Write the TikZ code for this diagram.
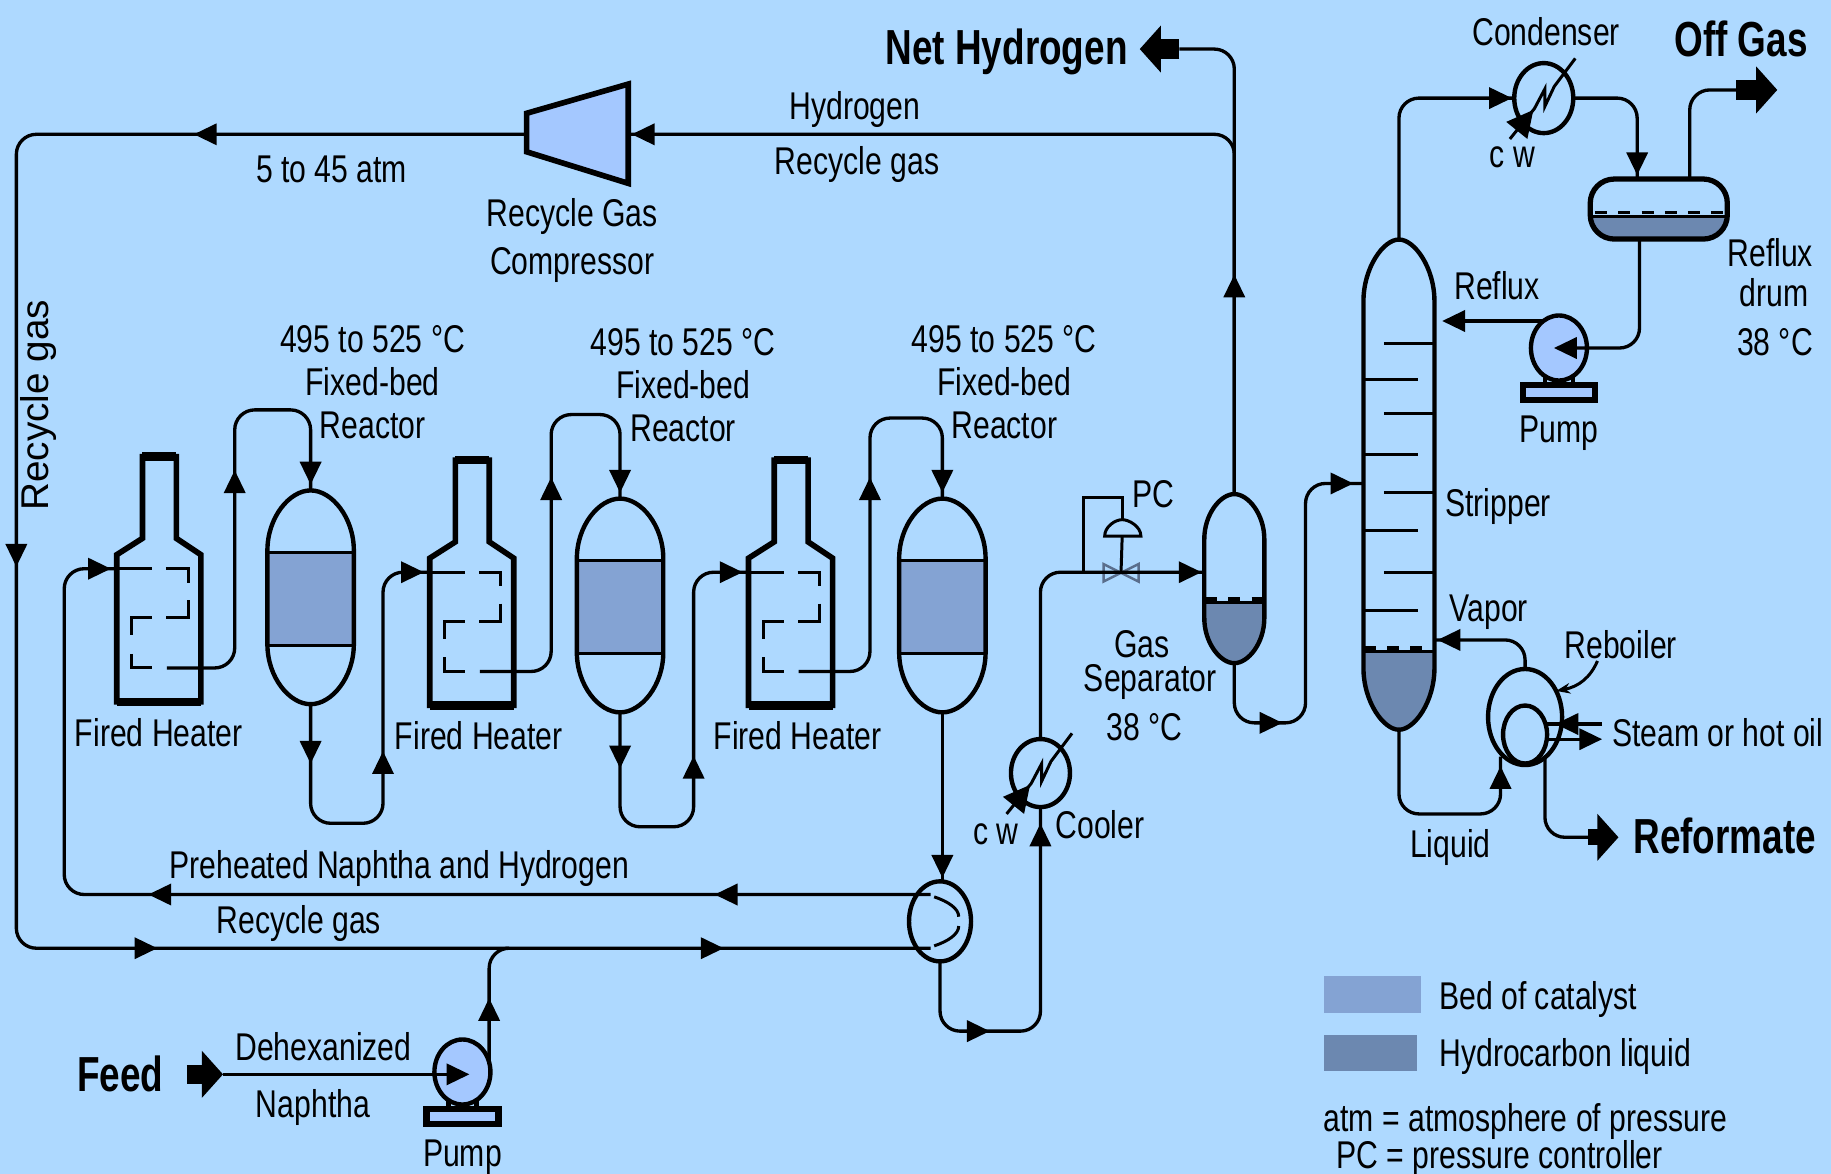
\documentclass[tikz,border=0pt]{standalone}
\usepackage{fontspec}
\setmainfont[FakeStretch=0.78]{Liberation Sans}
\newfontfamily\wideFont{Liberation Sans}
\newfontfamily\headFont[FakeStretch=0.75]{Liberation Sans}
\usetikzlibrary{arrows.meta,shapes.geometric,decorations.markings}
\definecolor{skyCR}{HTML}{AED9FF}
\definecolor{bedCR}{HTML}{84A3D3}
\definecolor{liquidCR}{HTML}{6C88B0}
\definecolor{machineCR}{HTML}{A4C8FF}
\definecolor{valveCR}{HTML}{5A6E8C}
\newcommand{\vesselPath}[3]{([yshift=-#2]#1.north west) .. controls ([yshift=-0.45*#2]#1.north west) and ([xshift=#3]#1.north west) .. (#1.north)
  .. controls ([xshift=-#3]#1.north east) and ([yshift=-0.45*#2]#1.north east) .. ([yshift=-#2]#1.north east)
  -- ([yshift=#2]#1.south east) .. controls ([yshift=0.45*#2]#1.south east) and ([xshift=-#3]#1.south east) .. (#1.south)
  .. controls ([xshift=#3]#1.south west) and ([yshift=0.45*#2]#1.south west) .. ([yshift=#2]#1.south west) -- cycle}
\begin{document}
\begin{tikzpicture}[x=0.011677cm,y=-0.011677cm,
    tipCR/.tip={Triangle[length=6.5pt,width=6pt]},
    tipWideCR/.tip={Triangle[length=7.5pt,width=7.5pt]},
    pipeCR/.style={line width=0.95pt,rounded corners=0.2cm},
    tipAt/.style={postaction={decorate,decoration={markings,mark=at position #1*0.011677cm with {\arrow{tipCR}}}}},
    tipWideAt/.style={postaction={decorate,decoration={markings,mark=at position #1*0.011677cm with {\arrow{tipWideCR}}}}},
    bigTipCR/.style={line width=5.5pt,-{Triangle[length=6pt,width=13pt]}},
    shellCR/.style={line width=1.25pt},
    heaterCR/.style={line width=1.6pt,line join=miter},
    coilCR/.style={line width=0.85pt},
    levelCR/.style={line width=1.1pt,dash pattern=on 3.4pt off 3.2pt},
    boxCR/.style={inner sep=0pt,outer sep=0pt},
    reactorCR/.style={boxCR,minimum width=0.864cm,minimum height=2.137cm},
    roundCR/.style={ellipse,draw,shellCR,inner sep=0pt,outer sep=0pt},
    exchCR/.style={roundCR,minimum width=0.59cm,minimum height=0.68cm},
    pumpCR/.style={roundCR,fill=machineCR,minimum width=0.56cm,minimum height=0.65cm},
    labelCR/.style={font=\fontsize{11}{12}\selectfont,align=center,inner sep=0pt},
    headCR/.style={font=\fontsize{14}{16}\headFont\bfseries,inner sep=0pt},
]
\fill[skyCR] (0,0) rectangle (1568,1005);
\useasboundingbox (0,0) rectangle (1568,1005);
% Fired heaters with their coils
\foreach \n/\dx/\dy/\lx in {1/0/0/136,2/268/3/410,3/541/3/683} {
  \begin{scope}[shift={(\dx,\dy)}]
    \draw[heaterCR] (100,601) -- (100,475) -- (122,461) -- (122,391) -- (151,391) -- (151,461) -- (172,475) -- (172,601) -- cycle;
    \draw[line width=2.4pt] (100,601) -- (172,601);
    \draw[line width=2.4pt] (122,391) -- (151,391);
    \draw[coilCR] (100,487) -- (130,487);
    \draw[coilCR] (142,487) -- (161,487) -- (161,499);
    \draw[coilCR] (161,514) -- (161,529) -- (142,529);
    \draw[coilCR] (130,529) -- (113,529) -- (113,544);
    \draw[coilCR] (113,560) -- (113,572) -- (130,572);
    \coordinate (hIn\n) at (100,487);
    \coordinate (hOut\n) at (143,572);
  \end{scope}
  \node[labelCR] (firedLabel\n) at (\lx,627+\dy) {Fired Heater};
}
% Reactors
\foreach \n/\cx/\ty/\lx/\ly in {1/266/420/319/327,2/531/427/585/330,3/807/427/860/327} {
  \node[reactorCR] (r\n) at (\cx,\ty+91.5) {};
  \begin{scope}
    \clip \vesselPath{r\n}{0.6cm}{0.22cm};
    \fill[bedCR] (\cx-40,\ty+53) rectangle (\cx+40,\ty+133);
  \end{scope}
  \draw[coilCR] (\cx-37,\ty+53) -- (\cx+37,\ty+53);
  \draw[coilCR] (\cx-37,\ty+133) -- (\cx+37,\ty+133);
  \draw[shellCR] \vesselPath{r\n}{0.6cm}{0.22cm};
  \node[labelCR] (reactorLabel\n) at (\lx,\ly) {495 to 525 °C\\[0.2pt]Fixed-bed\\[0.2pt]Reactor};
}
% Equipment
\node[exchCR,minimum width=0.62cm,minimum height=0.8cm] (exch) at (805,789) {};
\node[exchCR] (cooler) at (891,662) {};
\node[exchCR,minimum height=0.7cm] (cond) at (1322,84) {};
\foreach \n/\cx/\cy in {1/396/918,2/1335/298} {
  \node[pumpCR] (pump\n) at (\cx,\cy) {};
  \draw[shellCR] (\cx-12,\cy+24) -- (\cx-12,\cy+32);
  \draw[shellCR] (\cx+12,\cy+24) -- (\cx+12,\cy+32);
  \node[draw,fill=machineCR,line width=1.8pt,minimum width=0.72cm,minimum height=0.15cm,boxCR] (pumpBase\n) at (\cx,\cy+38) {};
  \node[labelCR] (pumpLabel\n) at (\cx,\cy+73) {Pump};
}
\draw[shellCR,line width=1.6pt,fill=machineCR] (451,97) -- (538,72) -- (538,157) -- (451,130) -- cycle;
\coordinate (compIn) at (538,115);
\coordinate (compOut) at (451,115);
% Gas separator
\node[boxCR,minimum width=0.6cm,minimum height=1.69cm] (sep) at (1057,495.5) {};
\begin{scope}
  \clip \vesselPath{sep}{0.45cm}{0.16cm};
  \fill[liquidCR] (1025,516) rectangle (1090,575);
\end{scope}
\draw[levelCR] (1032,513) -- (1083,513);
\draw[coilCR] (1032,516) -- (1083,516);
\draw[shellCR] \vesselPath{sep}{0.45cm}{0.16cm};
% Stripper
\node[boxCR,minimum width=0.71cm,minimum height=4.9cm] (strip) at (1198,415) {};
\begin{scope}
  \clip \vesselPath{strip}{0.62cm}{0.2cm};
  \fill[liquidCR] (1160,558) rectangle (1235,630);
\end{scope}
\draw[levelCR] (1168,555) -- (1228,555);
\draw[coilCR] (1168,558) -- (1228,558);
\draw[shellCR] \vesselPath{strip}{0.62cm}{0.2cm};
\foreach \ty in {294,354,422,490} \draw[coilCR] (1185,\ty) -- (1228,\ty);
\foreach \ty in {325,389,454,523} \draw[coilCR] (1168,\ty) -- (1214,\ty);
% Reflux drum
\node[boxCR,minimum width=1.37cm,minimum height=0.6cm] (drum) at (1420.5,179) {};
\begin{scope}
  \clip[rounded corners=0.24cm] (drum.north west) rectangle (drum.south east);
  \fill[liquidCR] (1355,185) rectangle (1485,210);
\end{scope}
\draw[levelCR] (1366,182) -- (1476,182);
\draw[coilCR] (1362,185) -- (1479,185);
\draw[shellCR,line width=1.5pt,rounded corners=0.24cm] (drum.north west) rectangle (drum.south east);
\coordinate (drumIn) at (1402,153);
\coordinate (drumOut) at (1404,205);
\coordinate (offOut) at (1447,153);
% Reboiler
\node[roundCR,minimum width=0.74cm,minimum height=0.96cm] (reboil) at (1306,614) {};
\node[roundCR,minimum width=0.44cm,minimum height=0.58cm] (reboilIn) at (1306,629) {};
\coordinate (liqIn) at (1285,648);
\coordinate (refOut) at (1323,648);
% Cooling water lines and coil marks
\foreach \n in {cooler,cond} {
  \begin{scope}[shift={(\n.center)}]
    \coordinate (\n Low) at (-29,35);
    \coordinate (\n Up) at (27,-34);
    \draw[coilCR,tipWideAt=32] (\n Low) -- (-8,9) -- (1,-8) -- (1,7) -- (9,-10) -- (\n Up);
  \end{scope}
}
% Exchanger inner baffle
\draw[coilCR] (800,768) .. controls (812,772) and (821,778) .. (821,785);
\draw[coilCR] (821,793) .. controls (821,800) and (812,806) .. (800,810);
% Pressure control loop
\coordinate (valveTap) at (928,490);
\coordinate (pcTop) at (961,445);
\coordinate (pcBase) at (961,459);
\coordinate (valve) at (960,490);
\draw[coilCR] (valveTap) -- (928,426) -- (961,426) -- (pcTop);
\draw[coilCR] (946,459) .. controls (946,451) and (955,445) .. (pcTop) .. controls (967,445) and (977,451) .. (977,459) -- cycle;
\draw[coilCR] (pcBase) -- (valve);
\draw[valveCR,line width=0.7pt] (945,483) -- (945,498) -- (975,483) -- (975,498) -- cycle;
% Main loop
\coordinate (exchTop) at (797,766);
\coordinate (exchLow) at (797,812);
\coordinate (feedJoin) at (433,812);
\draw[pipeCR,tipAt=800,tipAt=1240,tipAt=1725,tipAt=285] (compOut) -- (14,115) -- (14,812) -- (exchLow);
\draw[pipeCR,tipAt=185,tipAt=670,tipAt=-5] (exchTop) -- (55,766) -- (55,487) -- (hIn1);
\draw[pipeCR,tipAt=-3] (sep.north) |- (compIn);
% Feed
\coordinate (feedTail) at (160,920);
\coordinate (feedTip) at (191,920);
\draw[bigTipCR] (feedTail) -- (feedTip);
\draw[pipeCR,-{tipCR}] (feedTip) -- ([xshift=0.07cm]pump1.center |- feedTip);
\draw[pipeCR,tipAt=55] (pump1.20) |- (feedJoin);
% Reactor trains
\draw[pipeCR,tipAt=220,tipAt=-5] (hOut1) -| (201,351) -| (r1.north);
\draw[pipeCR,tipAt=220,tipAt=-5] (hOut2) -| (472,355) -| (r2.north);
\draw[pipeCR,tipAt=220,tipAt=-5] (hOut3) -| (745,358) -| (r3.north);
\draw[pipeCR,tipAt=51,tipAt=211,tipAt=-5] (r1.south) |- (328,705) |- (hIn2);
\draw[pipeCR,tipAt=48,tipAt=207,tipAt=-5] (r2.south) |- (594,708) |- (hIn3);
\draw[pipeCR,tipAt=-3] (r3.south) -- (r3.south |- exch.north);
\draw[pipeCR,tipAt=95,tipAt=-14] (exch.south) |- (891,883) -- (cooler.south);
\coordinate (sepIn) at (1032,490);
\draw[pipeCR,tipAt=-3] (cooler.north) |- (sepIn);
\coordinate (stripIn) at (1167,414);
\draw[pipeCR,tipAt=85,tipAt=345,tipAt=-8] (sep.south) |- (1118,619) |- (stripIn);
% Products
\coordinate (netTail) at (1010,42);
\coordinate (netTip) at (976,42);
\draw[pipeCR,tipAt=188] (sep.north) |- (netTail);
\draw[bigTipCR] (netTail) -- (netTip);
\draw[pipeCR,tipAt=-2] (strip.north) |- (cond.west);
\draw[pipeCR,tipAt=-3] (cond.east) -| (drumIn);
\coordinate (offTail) at (1487,77);
\coordinate (offTip) at (1522,77);
\draw[pipeCR] (offOut) |- (offTail);
\draw[bigTipCR] (offTail) -- (offTip);
\draw[pipeCR,-{tipCR}] (drumOut) |- ([xshift=-0.05cm]pump2.center);
\coordinate (refluxTip) at (1235,275);
\draw[pipeCR,-{tipCR}] (pump2.120) -- (refluxTip |- pump2.120);
% Reboiler lines
\coordinate (vaporTip) at (1229,548);
\draw[pipeCR,tipAt=-2] (reboil.north) |- (vaporTip);
\draw[pipeCR,tipAt=-8] (strip.south) |- (1285,697) -- (liqIn);
\coordinate (refTail) at (1360,717);
\coordinate (refTip) at (1386,717);
\draw[pipeCR] (refOut) |- (refTail);
\draw[bigTipCR,line width=4.5pt] (refTail) -- (refTip);
\coordinate (steamIn) at (1372,620);
\coordinate (steamMid) at (1325,620);
\coordinate (steamBack) at (1325,633);
\coordinate (steamOut) at (1372,633);
\draw[pipeCR,tipAt=-7] (steamIn) -- (steamMid);
\draw[pipeCR,-{tipCR}] (steamBack) -- (steamOut);
\coordinate (reboilNote) at (1368,566);
\draw[coilCR,-{Stealth[length=4pt]}] (reboilNote) .. controls (1362,580) and (1352,588) .. (reboil.40);
% Texts
\node[labelCR,font=\fontsize{11}{12}\wideFont] (recycleSide) at (33,347) [rotate=90] {Recycle gas};
\node[labelCR] (pressureLabel) at (284,145) {5 to 45 atm};
\node[labelCR] (compressorLabel) at (490,206) {Recycle Gas\\[1.5pt]Compressor};
\node[labelCR] (hydrogenLabel) at (732,94) {Hydrogen};
\node[labelCR] (recycleTop) at (734,141) {Recycle gas};
\node[labelCR] (preheatLabel) at (342,744) {Preheated Naphtha and Hydrogen};
\node[labelCR] (recycleLow) at (256,791) {Recycle gas};
\node[labelCR] (dehexLabel) at (277,896) {Dehexanized};
\node[labelCR] (naphthaLabel) at (268,948) {Naphtha};
\node[labelCR] (cwLowLabel) at (853,714) {c w};
\node[labelCR] (coolerLabel) at (942,706) {Cooler};
\node[labelCR] (pcLabel) at (988,423) {PC};
\node[labelCR] (gasLabel) at (978,552) {Gas};
\node[labelCR] (sepLabel) at (985,584) {Separator};
\node[labelCR] (sepTemp) at (980,623) {38 °C};
\node[labelCR] (stripLabel) at (1283,434) {Stripper};
\node[labelCR] (vaporLabel) at (1275,524) {Vapor};
\node[labelCR] (reboilLabel) at (1388,552) {Reboiler};
\node[labelCR] (steamLabel) at (1471,627) {Steam or hot oil};
\node[labelCR] (liquidLabel) at (1242,726) {Liquid};
\node[labelCR] (refluxLabel) at (1282,245) {Reflux};
\node[labelCR] (condLabel) at (1324,27) {Condenser};
\node[labelCR] (cwTopLabel) at (1295,135) {c w};
\node[labelCR] (drumLabel) at (1516,216) {Reflux};
\node[labelCR] (drumLabelB) at (1519,251) {drum};
\node[labelCR] (drumTemp) at (1520,293) {38 °C};
\node[headCR] (netLabel) at (862,44) {Net Hydrogen};
\node[headCR] (offLabel) at (1491,33) {Off Gas};
\node[headCR] (feedLabel) at (103,920) {Feed};
\node[headCR] (reformLabel) at (1477,716) {Reformate};
% Legend
\node[boxCR,fill=bedCR,minimum width=0.97cm,minimum height=0.37cm] (legendBed) at (1175.5,852) {};
\node[boxCR,fill=liquidCR,minimum width=0.93cm,minimum height=0.36cm] (legendLiquid) at (1174,902) {};
\node[labelCR,anchor=west] (bedLabel) at (1232,856) {Bed of catalyst};
\node[labelCR,anchor=west] (liquidKey) at (1232,905) {Hydrocarbon liquid};
\node[labelCR,anchor=west] (atmKey) at (1133,960) {atm = atmosphere of pressure};
\node[labelCR,anchor=west] (pcKey) at (1144,992) {PC = pressure controller};
\end{tikzpicture}
\end{document}
